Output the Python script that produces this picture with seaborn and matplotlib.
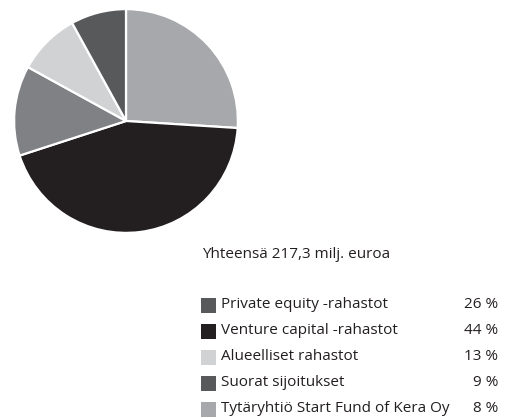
import matplotlib
matplotlib.use("Agg")
import matplotlib.pyplot as plt
from matplotlib.patches import Rectangle
import seaborn as sns

labels = ["Private equity -rahastot", "Venture capital -rahastot", "Alueelliset rahastot",
          "Suorat sijoitukset", "Tytäryhtiö Start Fund of Kera Oy"]
values = [26, 44, 13, 9, 8]
pct_labels = ["26 %", "44 %", "13 %", "9 %", "8 %"]
pie_colors = ["#a7a8ab", "#231f20", "#808184", "#d1d2d4", "#58595b"]
legend_colors = ["#58595b", "#231f20", "#d1d2d4", "#58595b", "#a7a8ab"]
total_text = "Yhteensä 217,3 milj. euroa"

sns.set_theme(style="white")
plt.rcParams["font.family"] = ["Open Sans", "DejaVu Sans"]

W, H = 505, 418
fig = plt.figure(figsize=(W / 100, H / 100), dpi=100)

# pie
cx, cy, r = 126, 121, 113
ax = fig.add_axes([(cx - r) / W, (H - cy - r) / H, 2 * r / W, 2 * r / H])
ax.pie(values, colors=pie_colors, startangle=90, counterclock=False, radius=1,
       wedgeprops=dict(edgecolor="white", linewidth=1.6))
ax.set_xlim(-1.01, 1.01)
ax.set_ylim(-1.01, 1.01)
ax.set_aspect("equal")
ax.axis("off")

# overlay for text/legend in pixel coordinates
ov = fig.add_axes([0, 0, 1, 1])
ov.set_xlim(0, W)
ov.set_ylim(H, 0)
ov.axis("off")

txt_color = "#231f20"
fs = 11
ov.text(202, 255, total_text, fontsize=fs, color=txt_color, va="center", ha="left")

y0, dy = 305, 26
for i, (lab, pct, col) in enumerate(zip(labels, pct_labels, legend_colors)):
    y = y0 + i * dy
    ov.add_patch(Rectangle((201, y - 7.5), 15, 15, facecolor=col, edgecolor="none"))
    ov.text(221, y, lab, fontsize=fs, color=txt_color, va="center", ha="left")
    ov.text(498, y, pct, fontsize=fs, color=txt_color, va="center", ha="right")

fig.savefig("out.png", dpi=100)
